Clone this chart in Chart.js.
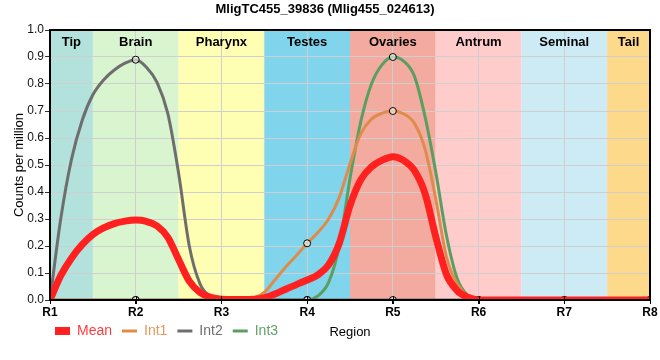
<!DOCTYPE html>
<html><head><meta charset="utf-8">
<script src="https://cdn.jsdelivr.net/npm/chart.js@4.4.1/dist/chart.umd.min.js"></script>
<style>html,body{margin:0;padding:0;background:#fff;}</style>
</head><body>
<canvas id="c" width="660" height="360" style="width:660px;height:360px;display:block"></canvas>
<script>
// ---- data ----
const chartTitle = 'MligTC455_39836 (Mlig455_024613)';
const regionLabels = ['R1','R2','R3','R4','R5','R6','R7','R8'];
const samplePositions = [
  1,1.125,1.25,1.375,1.5,1.625,1.75,1.875,
  2,2.125,2.25,2.375,2.5,2.625,2.75,2.875,
  3,3.125,3.25,3.375,3.5,3.625,3.75,3.875,
  4,4.125,4.25,4.375,4.5,4.625,4.75,4.875,
  5,5.125,5.25,5.375,5.5,5.625,5.75,5.875,
  6,6.125,6.25,6.375,6.5,6.625,6.75,6.875,
  7,7.125,7.25,7.375,7.5,7.625,7.75,7.875,
  8];
const meanValues = [
  0,0.09,0.155,0.205,0.243,0.267,0.283,0.292,
  0.296,0.291,0.274,0.232,0.15,0.07,0.028,0.01,
  0.003,0.002,0.002,0.003,0.008,0.022,0.04,0.057,
  0.074,0.093,0.13,0.21,0.35,0.445,0.493,0.518,
  0.531,0.517,0.48,0.395,0.235,0.095,0.035,0.01,
  0,0,0,0,0,0,0,0,
  0,0,0,0,0,0,0,0,
  0];
const int1Values = [
  0,0,0,0,0,0,0,0,
  0,0,0,0,0,0,0,0,
  0,0,0.001,0.007,0.028,0.075,0.122,0.165,
  0.21,0.25,0.30,0.38,0.505,0.615,0.67,0.692,
  0.70,0.69,0.655,0.56,0.375,0.16,0.06,0.014,
  0,0,0,0,0,0,0,0,
  0,0,0,0,0,0,0,0,
  0];
const int2Values = [
  0,0.30,0.52,0.665,0.76,0.815,0.852,0.877,
  0.89,0.862,0.805,0.69,0.47,0.20,0.06,0.012,
  0,0,0,0,0,0,0,0,
  0,0,0,0,0,0,0,0,
  0,0,0,0,0,0,0,0,
  0,0,0,0,0,0,0,0,
  0,0,0,0,0,0,0,0,
  0];
const int3Values = [
  0,0,0,0,0,0,0,0,
  0,0,0,0,0,0,0,0,
  0,0,0,0,0,0,0,0,
  0,0.015,0.065,0.20,0.45,0.66,0.80,0.872,
  0.90,0.885,0.83,0.68,0.475,0.24,0.08,0.017,
  0,0,0,0,0,0,0,0,
  0,0,0,0,0,0,0,0,
  0];
const seriesNames = ['Mean','Int1','Int2','Int3'];
const bandNames = ['Tip','Brain','Pharynx','Testes','Ovaries','Antrum','Seminal','Tail'];
const bandStarts = [1,1.5,2.5,3.5,4.5,5.5,6.5,7.5];
const bandEnds = [1.5,2.5,3.5,4.5,5.5,6.5,7.5,8];
const yTicks = [0,0.1,0.2,0.3,0.4,0.5,0.6,0.7,0.8,0.9,1.0];

// ---- styles ----
const FONT = "'Liberation Sans', Arial, sans-serif";
const bandColors = ['#b3e2dd','#d8f5d0','#ffffb3','#80d4ec','#f4ab9f','#ffcccc','#cdebf5','#fdd98b'];
const seriesColors = ['#ff2020','#de8c4c','#6e6e6e','#5a9e62'];
const seriesText = ['#ff3b3b','#e6975a','#6e6e6e','#5fa366'];
const seriesWidths = [7,3,3,3];

function toPoints(vals){ return samplePositions.map((x,i)=>({x:x,y:vals[i]})); }
const allValues = [meanValues,int1Values,int2Values,int3Values];

const datasets = seriesNames.map((name,i)=>({
  label:name,
  data:toPoints(allValues[i]),
  borderColor:seriesColors[i],
  backgroundColor:seriesColors[i],
  borderWidth:seriesWidths[i],
  cubicInterpolationMode:'monotone',
  fill:false,
  pointRadius: i===0 ? 0 : (ctx)=> (ctx.raw && Number.isInteger(ctx.raw.x)) ? 3.5 : 0,
  pointHoverRadius:0,
  pointBorderColor:'#000',
  pointBackgroundColor:'rgba(255,255,255,0.55)',
  pointBorderWidth:1,
  order:i
}));

const decor = {
  id:'decor',
  afterLayout(chart){
    const l = chart.legend;
    if (l) { l.left += 45; l.right += 45; l.top -= 8; l.bottom -= 8; }
  },
  beforeDraw(chart){
    const {ctx, chartArea:a, scales:{x}} = chart;
    ctx.save();
    bandNames.forEach((n,i)=>{
      const x0 = x.getPixelForValue(bandStarts[i]);
      const x1 = x.getPixelForValue(bandEnds[i]);
      ctx.fillStyle = bandColors[i];
      ctx.fillRect(x0, a.top, x1-x0, a.bottom-a.top);
    });
    ctx.restore();
  },
  beforeDatasetsDraw(chart){
    const {ctx, chartArea:a, scales:{x}} = chart;
    ctx.save();
    ctx.fillStyle = '#000';
    ctx.font = 'bold 13px ' + FONT;
    ctx.textAlign = 'center';
    ctx.textBaseline = 'middle';
    bandNames.forEach((n,i)=>{
      const xc = (x.getPixelForValue(bandStarts[i]) + x.getPixelForValue(bandEnds[i]))/2;
      ctx.fillText(n, xc, a.top + 12);
    });
    ctx.restore();
  },
  afterDatasetsDraw(chart){
    const {ctx, chartArea:a, scales:{x,y}} = chart;
    ctx.save();
    ctx.strokeStyle = '#000';
    ctx.lineWidth = 2;
    ctx.strokeRect(a.left, a.top, a.right-a.left, a.bottom-a.top);
    ctx.lineWidth = 1;
    const y0 = y.getPixelForValue(0);
    regionLabels.forEach((r,i)=>{
      const px = Math.round(x.getPixelForValue(i+1)) + 0.5;
      ctx.beginPath(); ctx.moveTo(px, y0-4); ctx.lineTo(px, y0+4); ctx.stroke();
    });
    ctx.restore();
  }
};

new Chart(document.getElementById('c'), {
  type:'line',
  data:{datasets:datasets},
  plugins:[decor],
  options:{
    responsive:false,
    animation:false,
    devicePixelRatio:1,
    layout:{padding:{left:0,right:10,top:0,bottom:4}},
    plugins:{
      title:{display:true,text:chartTitle,color:'#000',font:{family:FONT,size:13,weight:'bold'},padding:{top:2,bottom:12.4}},
      tooltip:{enabled:false},
      legend:{
        display:true, position:'bottom', align:'start',
        labels:{
          usePointStyle:true, pointStyleWidth:15, boxHeight:8, padding:10,
          font:{family:FONT,size:14},
          generateLabels(chart){
            return chart.data.datasets.map((d,i)=>({
              text:d.label,
              fillStyle:seriesColors[i],
              strokeStyle:seriesColors[i],
              lineWidth: i===0 ? 0 : 3,
              pointStyle: i===0 ? 'rect' : 'line',
              fontColor:seriesText[i],
              hidden:false,
              datasetIndex:i
            }));
          }
        }
      }
    },
    scales:{
      x:{
        type:'linear', min:1, max:8,
        afterFit(s){ s.height = 22; },
        afterBuildTicks(s){ s.ticks = regionLabels.map((r,i)=>({value:i+1})); },
        ticks:{ callback:(v)=>regionLabels[v-1], color:'#000', font:{family:FONT,size:12,weight:'bold'}, padding:1, maxRotation:0, autoSkip:false },
        grid:{ color:'#cfcfcf', lineWidth:1, tickLength:4, tickColor:'#000' },
        border:{ color:'#000', width:2 },
        title:{ display:true, text:'Region', color:'#000', font:{family:FONT,size:13}, padding:{top:0,bottom:-17.8} }
      },
      y:{
        min:0, max:1,
        afterFit(s){ s.width = 50; },
        afterBuildTicks(s){ s.ticks = yTicks.map(v=>({value:v})); },
        ticks:{ callback:(v)=>v.toFixed(1), color:'#111', font:{family:FONT,size:12}, padding:1 },
        grid:{ color:'#cfcfcf', lineWidth:1, tickLength:5, tickColor:'#333' },
        border:{ color:'#000', width:2 },
        title:{ display:true, text:'Counts per million', color:'#000', font:{family:FONT,size:13}, padding:{top:12,bottom:0} }
      }
    }
  }
});
</script>
</body></html>
